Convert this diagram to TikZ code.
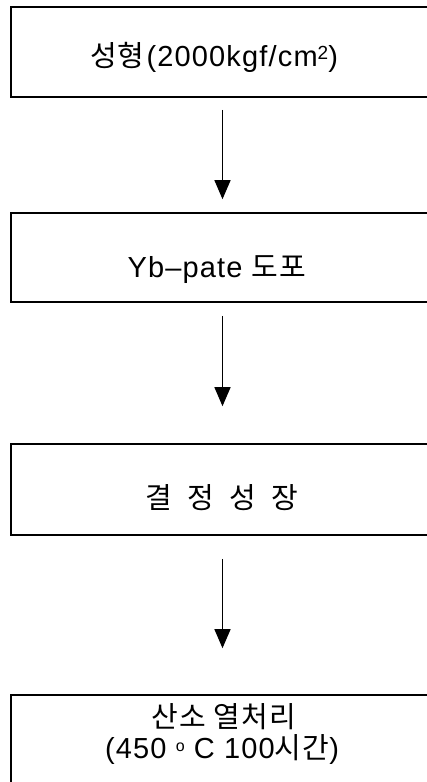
\documentclass[tikz,border=0pt]{standalone}
\usepackage{fontspec}
\setmainfont{Liberation Sans}[LetterSpace=4]
\newfontfamily\kr{Noto Sans CJK KR}[LetterSpace=4]
\usetikzlibrary{arrows.meta}
\tikzset{
  box/.style={draw, line width=1.6pt, rectangle, minimum width=429pt, inner sep=0pt},
  lbl/.style={font=\fontsize{29}{30}\selectfont, align=center, inner sep=0pt},
  arr/.style={line width=1.3pt, -{Triangle[width=16pt,length=19pt]}}
}
\begin{document}
\begin{tikzpicture}[x=1pt,y=-1pt]
\useasboundingbox (0,0) rectangle (427,782);
\clip (0,0) rectangle (427,782);
\node[box, minimum height=90pt] (b1) at (225.5,52) {};
\node[box, minimum height=89pt] (b2) at (225.5,257.5) {};
\node[box, minimum height=91pt] (b3) at (225.5,489.5) {};
\node[box, minimum height=90pt] (b4) at (225.5,740) {};
\node[lbl, anchor=base] (t1) at (214,66) {{\kr 성형}\kern2pt(2000kgf/cm\raisebox{7pt}{\fontsize{19}{19}\selectfont 2})};
\node[lbl, anchor=base] (t2) at (217,277) {Yb\textendash pate\ {\kr 도포}};
\node[lbl, anchor=base] (t3) at (222,508) {{\kr 결\ \ 정\ \ 성\ \ 장}};
\node[lbl, anchor=base] (t4a) at (224,727) {{\kr 산소\ 열처리}};
\node[lbl, anchor=base] (t4b) at (222,758) {(450\ \raisebox{7pt}{\fontsize{16}{16}\selectfont o}\ C 100{\kr 시간})};
\draw[arr] ([xshift=-3pt,yshift=-12pt]b1.south) -- ([xshift=-3pt,yshift=13pt]b2.north);
\draw[arr] ([xshift=-3pt,yshift=-13pt]b2.south) -- ([xshift=-3pt,yshift=37pt]b3.north);
\draw[arr] ([xshift=-3pt,yshift=-23pt]b3.south) -- ([xshift=-3pt,yshift=46pt]b4.north);
\end{tikzpicture}
\end{document}
